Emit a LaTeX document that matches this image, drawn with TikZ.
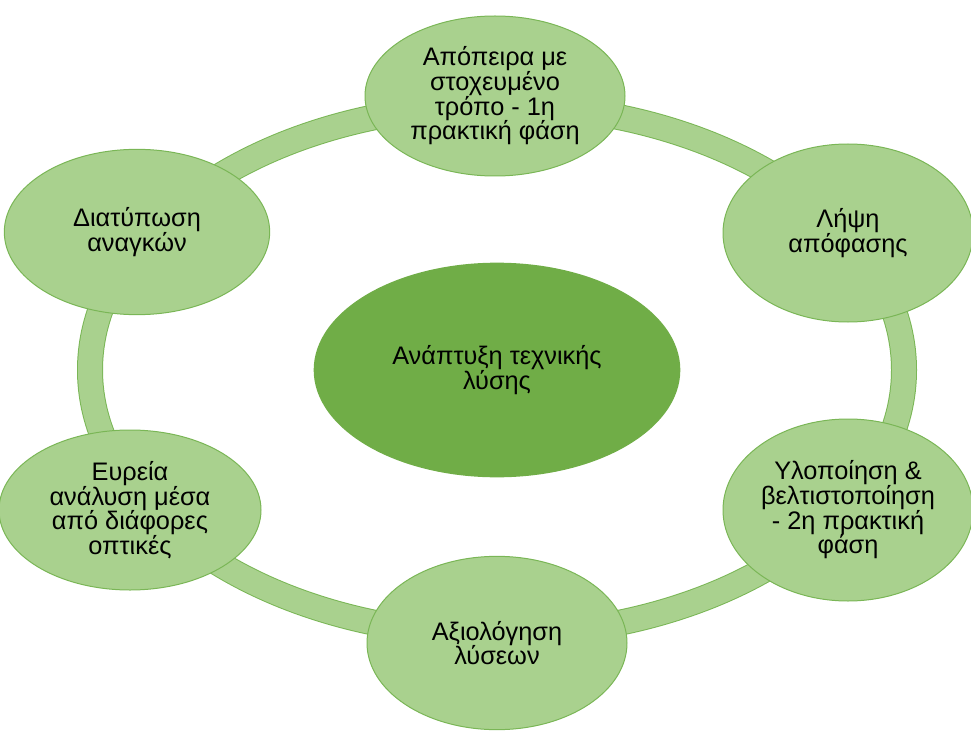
\documentclass[tikz,border=0pt]{standalone}
\usepackage{fontspec}
\setmainfont{Liberation Sans}
\usepackage{xcolor}
\usepackage{tikz}
\usetikzlibrary{shapes.geometric}
\definecolor{cycle_light}{RGB}{169,209,142}
\definecolor{cycle_dark}{RGB}{112,173,71}
\definecolor{cycle_edge}{RGB}{122,182,86}

\begin{document}
\begin{tikzpicture}[x=0.75pt, y=-0.75pt,
    stage/.style={ellipse, draw=cycle_edge, fill=cycle_light, line width=0.75pt,
      inner sep=0pt, align=center, font=\fontsize{19}{18.5}\selectfont},
    hub/.style={ellipse, fill=cycle_dark, inner sep=0pt, align=center,
      minimum width=275pt, minimum height=161pt, font=\fontsize{19}{18.5}\selectfont},
    ring/.style={draw=cycle_edge, line width=0.75pt, double=cycle_light,
      double distance=18pt}]
  \useasboundingbox (0,0) rectangle (971,731);
  % Central goal
  \node[hub] (core) at (497,370) {Ανάπτυξη τεχνικής\\λύσης};
  % Ring round the goal
  \draw[ring] (core.center) ellipse [x radius=407, y radius=265];
  % Stages on the ring
  \node[stage, minimum width=195pt, minimum height=120pt]
    (attempt) at (495,96) {Απόπειρα με\\στοχευμένο\\τρόπο - 1η\\πρακτική φάση};
  \node[stage, minimum width=187.5pt, minimum height=133.5pt]
    (decide) at (848,233) {Λήψη\\απόφασης};
  \node[stage, minimum width=187.5pt, minimum height=136.5pt]
    (build) at (848,510) {Υλοποίηση \&\\βελτιστοποίηση\\- 2η πρακτική\\φάση};
  \node[stage, minimum width=195pt, minimum height=130pt]
    (assess) at (497,643) {Αξιολόγηση\\λύσεων};
  \node[stage, minimum width=196.5pt, minimum height=120pt]
    (survey) at (130,510) {Ευρεία\\ανάλυση μέσα\\από διάφορες\\οπτικές};
  \node[stage, minimum width=199pt, minimum height=124pt]
    (needs) at (137,232) {Διατύπωση\\αναγκών};
\end{tikzpicture}
\end{document}
